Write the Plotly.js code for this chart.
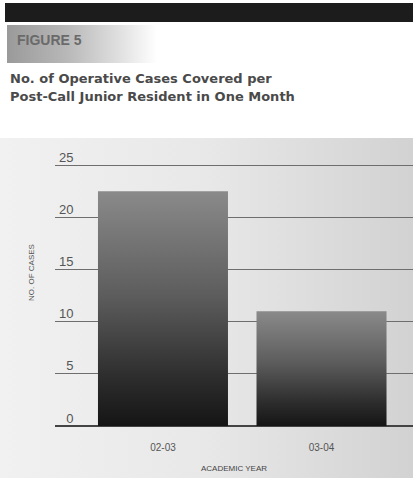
<!DOCTYPE html>
<html>
<head>
<meta charset="utf-8">
<script src="https://cdn.plot.ly/plotly-3.0.1.min.js"></script>
<style>
  html, body { margin: 0; padding: 0; background: #fff; }
  #chart {
    width: 413px; height: 478px;
    /* header band, figure tab, and the shaded panel behind the chart */
    background:
      linear-gradient(#1c1c1c, #1c1c1c) 5px 3px / 408px 19px no-repeat,
      linear-gradient(90deg, #9a9a9a 0px, #b8b8b8 60px, #dedede 110px, #ffffff 150px) 7px 25px / 150px 38px no-repeat,
      linear-gradient(90deg, #f1f1f1 0%, #e8e8e8 50%, #d2d2d2 100%) 0 138px / 413px 340px no-repeat,
      #ffffff;
  }
</style>
</head>
<body>
<div id="chart"></div>
<script>
// Academic years and mean operative cases covered per post-call junior resident per month
const years = ['02-03', '03-04'];
const cases = [22.5, 11.0];
const yTicks = [0, 5, 10, 15, 20, 25];

const W = 413, H = 478;
const M = { l: 55, r: 0, t: 140, b: 52 };
const pw = W - M.l - M.r, ph = H - M.t - M.b;
// pixel position -> paper coordinates
const px = x => (x - M.l) / pw;
const py = y => (H - M.b - y) / ph;

const headFont = 'DejaVu Sans, Liberation Sans, Arial, sans-serif';

const trace = {
  type: 'bar',
  x: years,
  y: cases,
  marker: { color: '#444', line: { width: 0 } },
  hoverinfo: 'x+y'
};

const layout = {
  width: W, height: H,
  margin: M,
  paper_bgcolor: 'rgba(0,0,0,0)',
  plot_bgcolor: 'rgba(0,0,0,0)',
  showlegend: false,
  bargap: 0.18,
  font: { family: 'Liberation Sans, Arial, sans-serif', color: '#444' },
  xaxis: {
    type: 'category',
    range: [-0.681, 1.577],
    showgrid: false, zeroline: false, showline: false,
    ticks: '',
    ticklabelstandoff: 14,
    tickfont: { size: 10, color: '#555' },
    title: { text: 'ACADEMIC YEAR', font: { size: 8, color: '#444' }, standoff: 13 }
  },
  yaxis: {
    range: [0, 27.4],
    tickvals: yTicks,
    // figure-space padding keeps the inside labels right-aligned
    ticktext: yTicks.map(v => (v < 10 ? '\u2007' : '') + v),
    showgrid: true, gridcolor: '#6e6e6e', gridwidth: 1,
    zeroline: true, zerolinecolor: '#444', zerolinewidth: 1.5,
    showline: false, ticks: '',
    ticklabelposition: 'inside',
    ticklabeloverflow: 'allow',
    ticklabelshift: -8,
    ticklabelstandoff: 1,
    tickfont: { size: 13, color: '#555' }
  },
  annotations: [
    {
      text: '<b>FIGURE 5</b>', xref: 'paper', yref: 'paper',
      x: px(15), y: py(40), xanchor: 'left', yanchor: 'middle',
      showarrow: false, font: { size: 14, color: '#6a6a6a' }
    },
    {
      text: '<b>No. of Operative Cases Covered per</b>', xref: 'paper', yref: 'paper',
      x: px(8), y: py(79), xanchor: 'left', yanchor: 'middle',
      showarrow: false, font: { size: 13, color: '#4a4a4a', family: headFont }
    },
    {
      text: '<b>Post-Call Junior Resident in One Month</b>', xref: 'paper', yref: 'paper',
      x: px(8), y: py(97), xanchor: 'left', yanchor: 'middle',
      showarrow: false, font: { size: 13, color: '#4a4a4a', family: headFont }
    },
    {
      text: 'NO. OF CASES', xref: 'paper', yref: 'paper',
      x: px(31), y: py(273), xanchor: 'center', yanchor: 'middle',
      textangle: -90, showarrow: false, font: { size: 8, color: '#555' }
    }
  ]
};

Plotly.newPlot('chart', [trace], layout, { displayModeBar: false, staticPlot: true }).then(gd => {
  // vertical grey-to-black shading on the bars
  const svgNS = 'http://www.w3.org/2000/svg';
  const svg = gd.querySelector('svg.main-svg');
  let defs = svg.querySelector('defs');
  if (!defs) { defs = document.createElementNS(svgNS, 'defs'); svg.insertBefore(defs, svg.firstChild); }
  const grad = document.createElementNS(svgNS, 'linearGradient');
  grad.setAttribute('id', 'barShade');
  grad.setAttribute('x1', '0'); grad.setAttribute('y1', '0');
  grad.setAttribute('x2', '0'); grad.setAttribute('y2', '1');
  [['0', '#8a8a8a'], ['0.45', '#5c5c5c'], ['0.8', '#2c2c2c'], ['1', '#151515']].forEach(([o, c]) => {
    const s = document.createElementNS(svgNS, 'stop');
    s.setAttribute('offset', o); s.setAttribute('stop-color', c);
    grad.appendChild(s);
  });
  defs.appendChild(grad);
  gd.querySelectorAll('.bars .point path').forEach(p => { p.style.fill = 'url(#barShade)'; });
});
</script>
</body>
</html>
